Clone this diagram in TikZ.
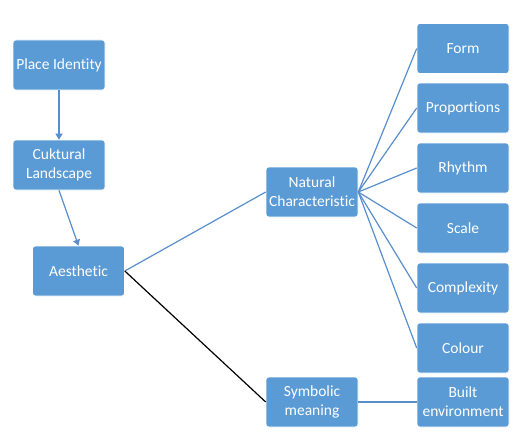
\documentclass[tikz,border=0pt]{standalone}
\usepackage{fontspec}
\setmainfont{Carlito}[Ligatures={NoCommon}]
\usetikzlibrary{arrows.meta}
\definecolor{boxblue}{RGB}{91,155,213}
\definecolor{lineblue}{RGB}{88,142,204}
\tikzstyle{bx}=[rectangle, rounded corners=3pt, fill=boxblue, draw=white, line width=0.6pt, minimum width=92pt, minimum height=50pt, inner sep=1pt, align=center, text=white, font=\fontsize{15.5}{19}\selectfont]
\tikzstyle{ln}=[draw=lineblue, line width=1.2pt]
\tikzstyle{ar}=[ln, -{Triangle[length=6pt,width=7pt]}, lineblue, fill=lineblue]

\begin{document}
\begin{tikzpicture}[x=1pt, y=-1pt]

\useasboundingbox (0,0) rectangle (513,436);

% left column
\node[bx] (place) at (59,65) {Place Identity};
\node[bx] (cult) at (59,165) {Cuktural\\Landscape};
\node[bx] (aes) at (78.5,271) {Aesthetic};

% middle column
\node[bx] (nat) at (312,192) {Natural\\Characteristic};
\node[bx] (sym) at (312,402) {Symbolic\\meaning};

% right column
\node[bx] (form) at (463,48.5) {Form};
\node[bx] (prop) at (463,108) {Proportions};
\node[bx] (rhy) at (463,168) {Rhythm};
\node[bx] (scl) at (463,228) {Scale};
\node[bx] (cplx) at (463,288) {Complexity};
\node[bx] (col) at (463,348) {Colour};
\node[bx] (built) at (463,402) {Built\\environment};

\draw[ar] (place.south) -- (cult.north);
\draw[ar] (cult.south) -- (aes.north);

\draw[ln] (aes.east) -- (nat.west);
\draw[black, line width=1.2pt] (aes.east) -- (sym.west);

\draw[ln] (nat.east) -- (form.west);
\draw[ln] (nat.east) -- (prop.west);
\draw[ln] (nat.east) -- (rhy.west);
\draw[ln] (nat.east) -- (scl.west);
\draw[ln] (nat.east) -- (cplx.west);
\draw[ln] (nat.east) -- (col.west);

\draw[ln] (sym.east) -- (built.west);

\end{tikzpicture}
\end{document}
